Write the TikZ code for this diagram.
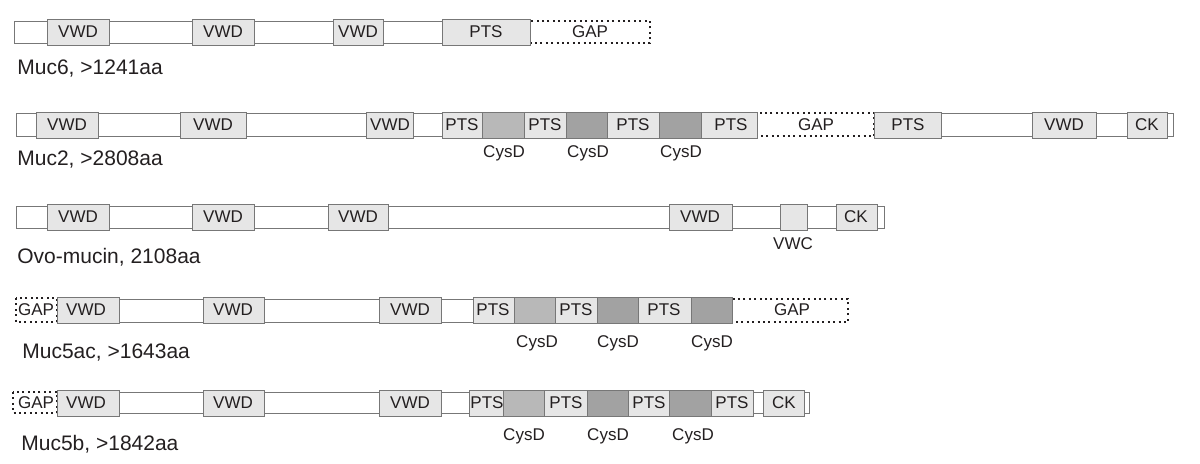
\documentclass[tikz,border=0pt]{standalone}
\usepackage{fontspec}
\setmainfont{Liberation Sans}
\definecolor{lineg}{HTML}{777777}
\definecolor{dombg}{HTML}{E6E6E6}
\definecolor{cyslight}{HTML}{B8B8B8}
\definecolor{cysdark}{HTML}{A2A2A2}
\definecolor{txt}{HTML}{231F20}
\begin{document}
\begin{tikzpicture}[x=0.5pt,y=-0.5pt,
  back/.style={draw=lineg,fill=white,line width=0.5pt},
  dom/.style={draw=lineg,fill=dombg,line width=0.5pt},
  cysa/.style={draw=lineg,fill=cyslight,line width=0.5pt},
  cysb/.style={draw=lineg,fill=cysdark,line width=0.5pt},
  gapbox/.style={draw=txt,dash pattern=on 1pt off 1.7pt,line width=1pt},
  lab/.style={font=\fontsize{8.5}{10}\selectfont,text=txt,inner sep=0pt},
  sublab/.style={lab,anchor=base},
  protname/.style={font=\fontsize{10.5}{12}\selectfont,text=txt,anchor=base west,inner sep=0pt}]
\useasboundingbox (0,0) rectangle (1200,463);

% Muc6
\draw[back] (14,21) rectangle (530,43);
\draw[gapbox] (530,21) rectangle (650,43);
\draw[dom] (47,19) rectangle (109,45);
\draw[dom] (192,19) rectangle (254,45);
\draw[dom] (333,19) rectangle (383,45);
\draw[dom] (442,19) rectangle (530,45);
\node[lab] (m6vwd1) at (78,32) {VWD};
\node[lab] (m6vwd2) at (223,32) {VWD};
\node[lab] (m6vwd3) at (358,32) {VWD};
\node[lab] (m6pts1) at (486,32) {PTS};
\node[lab] (m6gap)  at (590,32) {GAP};
\node[protname] (m6) at (17,74) {Muc6, >1241aa};

% Muc2
\draw[back] (16,113) rectangle (757,136);
\draw[gapbox] (757,113) rectangle (874,136);
\draw[back] (874,113) rectangle (1173,136);
\draw[dom] (36,112) rectangle (98,138);
\draw[dom] (180,112) rectangle (246,138);
\draw[dom] (366,112) rectangle (413,138);
\draw[dom] (442,112) rectangle (482,138);
\draw[cysa] (482,112) rectangle (524,138);
\draw[dom] (524,112) rectangle (566,138);
\draw[cysb] (566,112) rectangle (607,138);
\draw[dom] (607,112) rectangle (659,138);
\draw[cysb] (659,112) rectangle (701,138);
\draw[dom] (701,112) rectangle (757,138);
\draw[dom] (874,112) rectangle (941,138);
\draw[dom] (1032,112) rectangle (1096,138);
\draw[dom] (1127,112) rectangle (1167,138);
\node[lab] (m2vwd1) at (67,125) {VWD};
\node[lab] (m2vwd2) at (213,125) {VWD};
\node[lab] (m2vwd3) at (390,125) {VWD};
\node[lab] (m2pts1) at (462,125) {PTS};
\node[lab] (m2pts2) at (545,125) {PTS};
\node[lab] (m2pts3) at (633,125) {PTS};
\node[lab] (m2pts4) at (731,125) {PTS};
\node[lab] (m2gap)  at (816,125) {GAP};
\node[lab] (m2pts5) at (908,125) {PTS};
\node[lab] (m2vwd4) at (1064,125) {VWD};
\node[lab] (m2ck)   at (1147,125) {CK};
\node[sublab] (m2cys1) at (504,157) {CysD};
\node[sublab] (m2cys2) at (588,157) {CysD};
\node[sublab] (m2cys3) at (681,157) {CysD};
\node[protname] (m2) at (17,165) {Muc2, >2808aa};

% Ovo-mucin
\draw[back] (16,206) rectangle (884,228);
\draw[dom] (47,204) rectangle (109,230);
\draw[dom] (192,204) rectangle (254,230);
\draw[dom] (328,204) rectangle (388,230);
\draw[dom] (669,204) rectangle (732,230);
\draw[dom] (780,204) rectangle (807,230);
\draw[dom] (836,204) rectangle (877,230);
\node[lab] (ovvwd1) at (78,217) {VWD};
\node[lab] (ovvwd2) at (223,217) {VWD};
\node[lab] (ovvwd3) at (358,217) {VWD};
\node[lab] (ovvwd4) at (700,217) {VWD};
\node[lab] (ovck)   at (856,217) {CK};
\node[sublab] (ovvwc) at (793,249) {VWC};
\node[protname] (ov) at (17,263) {Ovo-mucin, 2108aa};

% Muc5ac
\draw[gapbox] (16,298) rectangle (57,322);
\draw[back] (57,299) rectangle (732,322);
\draw[gapbox] (732,299) rectangle (848,322);
\draw[dom] (57,297) rectangle (119,323);
\draw[dom] (203,297) rectangle (264,323);
\draw[dom] (379,297) rectangle (441,323);
\draw[dom] (473,297) rectangle (514,323);
\draw[cysa] (514,297) rectangle (555,323);
\draw[dom] (555,297) rectangle (597,323);
\draw[cysb] (597,297) rectangle (638,323);
\draw[dom] (638,297) rectangle (691,323);
\draw[cysb] (691,297) rectangle (732,323);
\node[lab] (m5agap1) at (36,310) {GAP};
\node[lab] (m5avwd1) at (86,310) {VWD};
\node[lab] (m5avwd2) at (233,310) {VWD};
\node[lab] (m5avwd3) at (410,310) {VWD};
\node[lab] (m5apts1) at (493,310) {PTS};
\node[lab] (m5apts2) at (576,310) {PTS};
\node[lab] (m5apts3) at (664,310) {PTS};
\node[lab] (m5agap2) at (792,310) {GAP};
\node[sublab] (m5acys1) at (537,347) {CysD};
\node[sublab] (m5acys2) at (618,347) {CysD};
\node[sublab] (m5acys3) at (712,347) {CysD};
\node[protname] (m5a) at (22,358) {Muc5ac, >1643aa};

% Muc5b
\draw[gapbox] (13,392) rectangle (57,413);
\draw[back] (57,392) rectangle (809,413);
\draw[dom] (57,390) rectangle (119,416);
\draw[dom] (203,390) rectangle (264,416);
\draw[dom] (379,390) rectangle (441,416);
\draw[dom] (469,390) rectangle (503,416);
\draw[cysa] (503,390) rectangle (544,416);
\draw[dom] (544,390) rectangle (587,416);
\draw[cysb] (587,390) rectangle (628,416);
\draw[dom] (628,390) rectangle (669,416);
\draw[cysb] (669,390) rectangle (711,416);
\draw[dom] (711,390) rectangle (753,416);
\draw[dom] (763,390) rectangle (804,416);
\node[lab] (m5bgap) at (36,403) {GAP};
\node[lab] (m5bvwd1) at (86,403) {VWD};
\node[lab] (m5bvwd2) at (233,403) {VWD};
\node[lab] (m5bvwd3) at (410,403) {VWD};
\node[lab] (m5bpts1) at (487,403) {PTS};
\node[lab] (m5bpts2) at (566,403) {PTS};
\node[lab] (m5bpts3) at (649,403) {PTS};
\node[lab] (m5bpts4) at (732,403) {PTS};
\node[lab] (m5bck)   at (784,403) {CK};
\node[sublab] (m5bcys1) at (524,440) {CysD};
\node[sublab] (m5bcys2) at (608,440) {CysD};
\node[sublab] (m5bcys3) at (693,440) {CysD};
\node[protname] (m5b) at (21,450) {Muc5b, >1842aa};
\end{tikzpicture}
\end{document}
